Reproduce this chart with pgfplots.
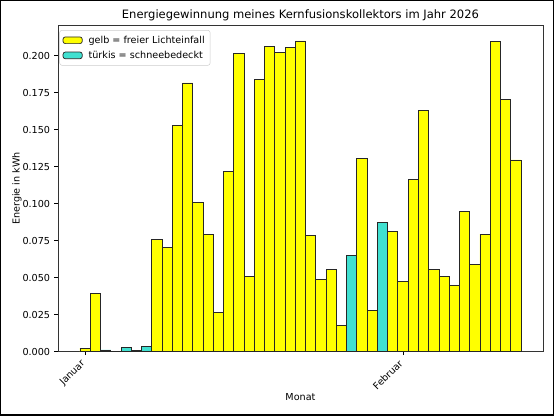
\documentclass[border=0pt]{standalone}
\usepackage{pgfplots}
\pgfplotsset{compat=1.18}
\usepackage{fontspec}
\setmainfont{DejaVu Sans}
\definecolor{gelb}{HTML}{FFFF00}
\definecolor{tuerkis}{HTML}{40E0D0}
\begin{document}
\begin{tikzpicture}
\path[use as bounding box] (0,0) rectangle (460.8pt,345.6pt);
\draw[line width=1.2pt] (0.6pt,0.6pt) rectangle (460.2pt,345.0pt);
\begin{axis}[
  at={(48.2pt,53.2pt)}, anchor=south west,
  scale only axis,
  width=403.4pt, height=271.2pt,
  xmin=-2.65, xmax=44.65,
  ymin=0, ymax=0.2204,
  axis line style={black!80, line width=0.6pt},
  title={Energiegewinnung meines Kernfusionskollektors im Jahr 2026},
  title style={font=\fontsize{9.6}{11}\selectfont, yshift=-6pt},
  xlabel={Monat},
  ylabel={Energie in kWh},
  label style={font=\fontsize{8}{10}\selectfont},
  xlabel style={yshift=1pt},
  ylabel style={yshift=-6pt},
  xtick={0,31},
  xticklabels={Januar,Februar},
  xticklabel style={xshift=-4pt, yshift=-3pt, rotate=45, anchor=north east, inner sep=0pt, font=\fontsize{8}{10}\selectfont},
  ytick={0,0.025,...,0.2001},
  yticklabel style={font=\fontsize{8}{10}\selectfont, /pgf/number format/fixed, /pgf/number format/fixed zerofill, /pgf/number format/precision=3},
  /pgf/number format/assume math mode=true,
  scaled y ticks=false,
  tick align=outside,
  tick pos=left,
  major tick length=3pt,
  tick style={black, line width=0.6pt},
  ybar, bar width=1, bar shift=0,
  legend style={at={(0.003,0.986)}, anchor=north west, draw=black!20, rounded corners=2pt,
    font=\fontsize{8}{10}\selectfont, row sep=1pt, inner sep=2.5pt},
  legend cell align=left,
  legend image code/.code={\draw[#1, draw=black!85, line width=0.6pt] (1pt,-2.8pt) rectangle (17pt,2.8pt); \path (20pt,0pt);},
]
\addplot[fill=gelb, draw=black!85, line width=0.6pt] coordinates {
(0,0.0023) (1,0.039) (7,0.0756) (8,0.0704) (9,0.1527) (10,0.1816) (11,0.1008)
(12,0.0794) (13,0.0266) (14,0.122) (15,0.2016) (16,0.0507) (17,0.1838) (18,0.2064)
(19,0.2023) (20,0.2057) (21,0.21) (22,0.0785) (23,0.049) (24,0.0553) (25,0.0178)
(27,0.1306) (28,0.0275) (30,0.0812) (31,0.0474) (32,0.1164) (33,0.1631) (34,0.0557)
(35,0.0505) (36,0.0447) (37,0.0947) (38,0.0587) (39,0.0794) (40,0.2095) (41,0.1703)
(42,0.1295)
};
\addplot[fill=tuerkis, draw=black!85, line width=0.6pt] coordinates {
(2,0.0011) (3,0.0002) (4,0.0025) (5,0.0009) (6,0.0034) (26,0.0647) (29,0.0875)
};
\legend{gelb = freier Lichteinfall, türkis = schneebedeckt}
\end{axis}
\end{tikzpicture}
\end{document}
